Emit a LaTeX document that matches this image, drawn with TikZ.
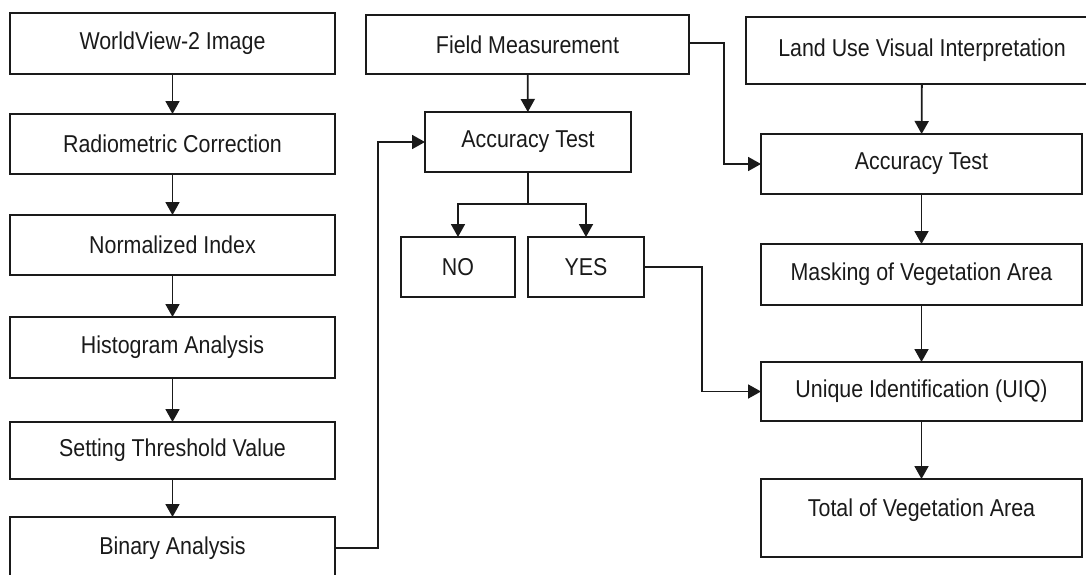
\documentclass[tikz,border=0pt]{standalone}
\usepackage{fontspec}
\usepackage{graphicx}
\setmainfont{Liberation Sans}
\usetikzlibrary{arrows.meta}
\definecolor{ink}{HTML}{1A1A1A}
\newcommand{\tx}[1]{\scalebox{1}[1.14]{#1}}
\begin{document}
\begin{tikzpicture}[x=1pt,y=-1pt,
  box/.style={draw=ink, line width=2pt, rectangle, inner sep=0pt, outer sep=0pt,
    font=\fontsize{21.4}{25}\selectfont, text=ink},
  conn/.style={draw=ink, line width=1.8pt},
  arr/.style={conn, -{Triangle[width=14pt,length=13pt]}}]
\useasboundingbox (0,0) rectangle (1086,574);
% left column
\node[box, minimum width=325, minimum height=61] (wv) at (172.5,43.5) {\tx{WorldView-2 Image}};
\node[box, minimum width=325, minimum height=60] (rc) at (172.5,144) {\tx{Radiometric Correction}};
\node[box, minimum width=325, minimum height=60] (ni) at (172.5,245) {\tx{Normalized Index}};
\node[box, minimum width=325, minimum height=61] (ha) at (172.5,347.5) {\tx{Histogram Analysis}};
\node[box, minimum width=325, minimum height=57] (st) at (172.5,450.5) {\tx{Setting Threshold Value}};
\node[box, minimum width=325, minimum height=62] (ba) at (172.5,548) {\tx{Binary Analysis}};
% middle
\node[box, minimum width=323, minimum height=59] (fm) at (527.5,44.5) {\tx{Field Measurement}};
\node[box, minimum width=206, minimum height=60] (at1) at (528,142) {\tx{Accuracy Test}};
\node[box, minimum width=114, minimum height=60] (no) at (458,267) {\tx{NO}};
\node[box, minimum width=116, minimum height=60] (yes) at (586,267) {\tx{YES}};
% right column
\node[box, minimum width=352, minimum height=67] (lu) at (922,50.5) {\tx{Land Use Visual Interpretation}};
\node[box, minimum width=321, minimum height=60] (at2) at (921.5,164) {\tx{Accuracy Test}};
\node[box, minimum width=321, minimum height=61] (mask) at (921.5,274.5) {\tx{Masking of Vegetation Area}};
\node[box, minimum width=321, minimum height=59] (uiq) at (921.5,391.5) {\tx{Unique Identification (UIQ)}};
\node[box, minimum width=321, minimum height=78, text height=15pt, text depth=19pt] (tot) at (921.5,518) {\tx{Total of Vegetation Area}};
% helper coordinates
\coordinate (c1) at (378,548);
\coordinate (c2) at (724,43);
\coordinate (c3) at (528,204);
\coordinate (c4) at (702,267);
% connectors
\draw[arr] (wv) -- (rc);
\draw[arr] (rc) -- (ni);
\draw[arr] (ni) -- (ha);
\draw[arr] (ha) -- (st);
\draw[arr] (st) -- (ba);
\draw[arr] (ba.east) -- (c1) |- (at1.west);
\draw[arr] (fm) -- (at1);
\draw[arr] (fm.east |- c2) -- (c2) |- (at2.west);
\draw[conn] (at1.south) -- (c3);
\draw[arr] (c3) -| (no.north);
\draw[arr] (c3) -| (yes.north);
\draw[arr] (yes.east) -- (c4) |- (uiq.west);
\draw[arr] (lu) -- (at2);
\draw[arr] (at2) -- (mask);
\draw[arr] (mask) -- (uiq);
\draw[arr] (uiq) -- (tot);
\end{tikzpicture}
\end{document}
